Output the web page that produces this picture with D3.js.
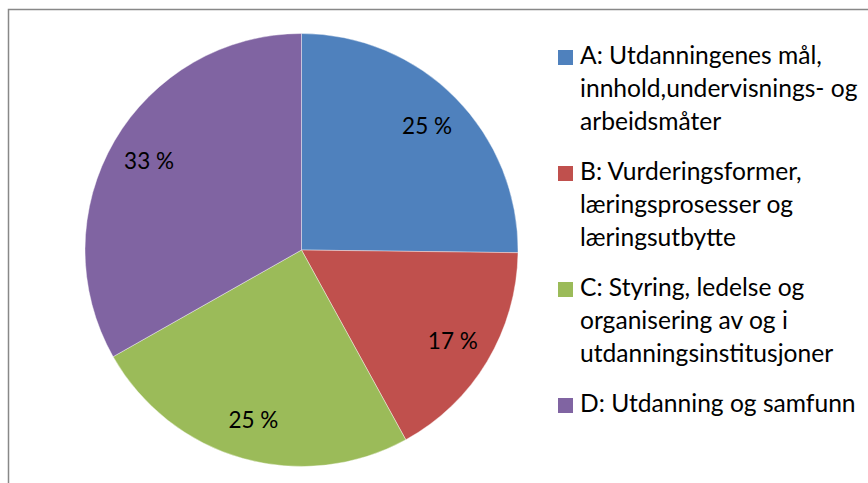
<!DOCTYPE html>
<html>
  <head>
    <meta http-equiv="Content-Type" content="text/html;charset=utf-8"/>
    <script type="text/javascript" src="https://cdn.jsdelivr.net/npm/d3@7"></script>
    <style type="text/css">
      body { margin: 0; background: #fff; }
      text {
        font-family: Lato, "Liberation Sans", sans-serif;
        fill: #000;
      }
    </style>
  </head>
  <body>
    <svg id="con"></svg>
    <script type="text/javascript">

    var categories = ["A", "B", "C", "D"];
    var values = [25.2, 16.8, 24.8, 33.2];
    var pctLabels = ["25 %", "17 %", "25 %", "33 %"];
    var legendLines = [
      ["A: Utdanningenes mål,", "innhold,undervisnings- og", "arbeidsmåter"],
      ["B: Vurderingsformer,", "læringsprosesser og", "læringsutbytte"],
      ["C: Styring, ledelse og", "organisering av og i", "utdanningsinstitusjoner"],
      ["D: Utdanning og samfunn"]
    ];
    var colors = ["#4f81bd", "#c0504d", "#9bbb59", "#8064a2"];

    var w = 868, h = 483;
    var cx = 301.5, cy = 250, r = 216.5;

    var svg = d3.select("#con")
        .attr("width", w)
        .attr("height", h);

    // chart frame (runs off the right and bottom of the picture)
    svg.append("rect")
        .attr("x", 8.5)
        .attr("y", 9.5)
        .attr("width", 900)
        .attr("height", 600)
        .style("fill", "none")
        .style("stroke", "#888")
        .style("stroke-width", 1.5);

    var color = d3.scaleOrdinal().domain(categories).range(colors);

    var pie = d3.pie().sort(null)
        .value(function(d, i) { return values[i]; });
    var arcs = pie(categories);

    var arc = d3.arc().innerRadius(0).outerRadius(r);
    var labelArc = d3.arc().innerRadius(r * 0.815).outerRadius(r * 0.815);

    var g = svg.append("g")
        .attr("transform", "translate(" + cx + "," + cy + ")");

    g.selectAll("path").data(arcs).enter().append("path")
        .attr("d", arc)
        .style("fill", function(d) { return color(d.data); })
        .style("stroke", "#fff")
        .style("stroke-width", 0.4);

    g.selectAll(".label").data(arcs).enter().append("text")
        .attr("class", "label")
        .attr("transform", function(d) { return "translate(" + labelArc.centroid(d) + ")"; })
        .attr("dy", "0.35em")
        .style("text-anchor", "middle")
        .style("font-size", "22.5px")
        .text(function(d, i) { return pctLabels[i]; });

    // legend
    var lx = 558, ly = 64, lineH = 33, gap = 17;
    var legend = svg.append("g");
    var y = ly;
    legendLines.forEach(function(lines, i) {
      var item = legend.append("g");
      item.append("rect")
          .attr("x", lx)
          .attr("y", y - 14)
          .attr("width", 15)
          .attr("height", 15)
          .style("fill", colors[i]);
      var t = item.append("text")
          .attr("x", lx + 22)
          .attr("y", y)
          .style("font-size", "24.6px");
      lines.forEach(function(s, j) {
        t.append("tspan")
            .attr("x", lx + 22)
            .attr("y", y + j * lineH)
            .text(s);
      });
      y += lines.length * lineH + gap;
    });

    </script>
  </body>
</html>
